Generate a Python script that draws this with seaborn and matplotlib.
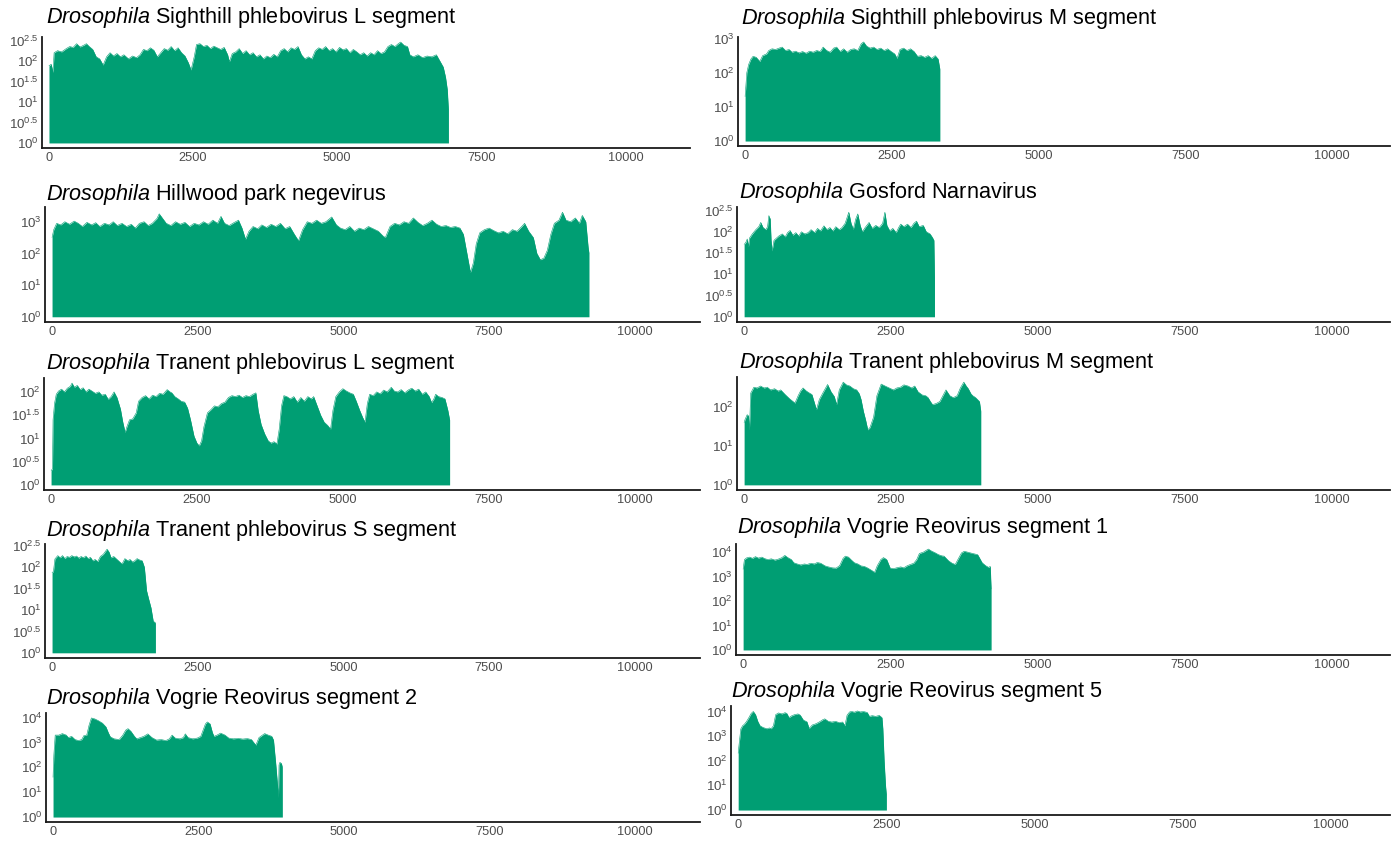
import numpy as np
import matplotlib
matplotlib.use("Agg")
import matplotlib.pyplot as plt
from matplotlib.ticker import NullLocator
import seaborn as sns

# Read depth along each genome: (position in nt, log10 depth)
sighthill_L = [
    (1, 1.88), (40, 1.92), (70, 1.72), (90, 2.2), (150, 2.25), (220, 2.22), (300, 2.3), (360, 2.35),
    (420, 2.33), (480, 2.42), (540, 2.34), (600, 2.38), (650, 2.42), (700, 2.35), (760, 2.28),
    (820, 2.1), (880, 2.05), (940, 1.9), (1000, 2.1), (1060, 2.2), (1120, 2.12), (1180, 2.18),
    (1240, 2.1), (1300, 2.15), (1380, 2.05), (1450, 2.12), (1520, 2.08), (1580, 2.15), (1640, 2.28),
    (1700, 2.25), (1760, 2.32), (1820, 2.26), (1880, 2.1), (1940, 2.2), (2000, 2.3), (2060, 2.26),
    (2120, 2.35), (2180, 2.25), (2240, 2.32), (2300, 2.2), (2360, 2.12), (2420, 1.95), (2465, 1.78),
    (2520, 2.1), (2560, 2.4), (2620, 2.42), (2680, 2.35), (2740, 2.38), (2800, 2.3), (2860, 2.36),
    (2920, 2.32), (2980, 2.28), (3040, 2.33), (3100, 2.15), (3130, 1.98), (3180, 2.18), (3240, 2.22),
    (3300, 2.3), (3360, 2.18), (3420, 2.25), (3480, 2.15), (3540, 2.2), (3600, 2.1), (3660, 2.15),
    (3720, 2.05), (3780, 2.12), (3840, 2.08), (3900, 2.16), (3960, 2.1), (4020, 2.25), (4080, 2.3),
    (4140, 2.22), (4200, 2.32), (4260, 2.28), (4320, 2.35), (4380, 2.15), (4440, 2.05), (4500, 2.1),
    (4560, 2.05), (4620, 2.25), (4680, 2.32), (4740, 2.28), (4800, 2.35), (4860, 2.25), (4920, 2.3),
    (4980, 2.22), (5040, 2.33), (5100, 2.27), (5160, 2.3), (5220, 2.2), (5280, 2.28), (5340, 2.22),
    (5400, 2.15), (5460, 2.2), (5520, 2.12), (5580, 2.2), (5640, 2.15), (5700, 2.25), (5760, 2.18),
    (5820, 2.22), (5880, 2.35), (5940, 2.4), (6000, 2.35), (6060, 2.42), (6100, 2.46), (6160, 2.38),
    (6220, 2.35), (6260, 2.15), (6320, 2.1), (6400, 2.15), (6480, 2.08), (6560, 2.12), (6640, 2.1),
    (6720, 2.15), (6780, 2.0), (6840, 1.85), (6880, 1.6), (6910, 1.3), (6930, 0.8),
]

hillwood = [
    (1, 2.5), (30, 2.75), (80, 2.95), (150, 2.9), (220, 3.0), (300, 2.92), (380, 3.02), (450, 2.95),
    (520, 2.85), (600, 2.98), (680, 2.9), (750, 2.97), (820, 2.85), (900, 2.95), (980, 2.9),
    (1050, 3.0), (1120, 2.88), (1200, 2.95), (1280, 2.85), (1360, 2.92), (1430, 2.8), (1500, 2.95),
    (1580, 3.0), (1650, 2.88), (1720, 2.95), (1800, 3.1), (1840, 3.25), (1900, 3.1), (1960, 2.95),
    (2040, 2.88), (2120, 3.0), (2200, 2.92), (2280, 2.98), (2360, 2.85), (2440, 2.95), (2520, 2.9),
    (2600, 3.0), (2680, 2.92), (2760, 3.05), (2840, 2.95), (2900, 3.17), (2960, 2.95), (3040, 2.88),
    (3120, 2.97), (3200, 3.05), (3260, 2.8), (3320, 2.45), (3380, 2.7), (3450, 2.85), (3530, 2.78),
    (3600, 2.9), (3680, 2.82), (3760, 2.92), (3840, 2.85), (3920, 2.95), (4000, 2.78), (4080, 2.85),
    (4160, 2.6), (4230, 2.4), (4300, 2.75), (4380, 3.0), (4460, 2.95), (4540, 3.05), (4620, 2.95),
    (4700, 3.0), (4800, 3.15), (4880, 2.9), (4950, 2.8), (5030, 2.75), (5110, 2.85), (5190, 2.7),
    (5270, 2.8), (5350, 2.75), (5430, 2.85), (5510, 2.78), (5600, 2.7), (5680, 2.55), (5720, 2.5),
    (5800, 2.85), (5880, 2.95), (5960, 2.9), (6040, 3.0), (6120, 2.95), (6200, 3.12), (6280, 2.98),
    (6360, 2.88), (6440, 2.95), (6520, 3.05), (6600, 2.92), (6680, 2.85), (6760, 2.88), (6840, 2.82),
    (6920, 2.85), (7000, 2.8), (7060, 2.6), (7120, 2.0), (7180, 1.4), (7230, 1.7), (7280, 2.3),
    (7340, 2.65), (7420, 2.75), (7500, 2.8), (7580, 2.72), (7660, 2.65), (7740, 2.7), (7820, 2.62),
    (7900, 2.75), (7980, 2.7), (8060, 2.85), (8110, 2.95), (8180, 2.7), (8260, 2.5), (8320, 2.0),
    (8380, 1.8), (8440, 1.85), (8500, 2.1), (8560, 2.6), (8620, 2.95), (8700, 3.05), (8760, 3.3),
    (8820, 3.05), (8900, 3.0), (8980, 3.12), (9050, 2.95), (9100, 3.2), (9160, 3.0), (9200, 2.2),
    (9215, 2.0),
]

tranent_L = [
    (1, 0.3), (25, 0.35), (35, 1.4), (60, 1.75), (90, 1.95), (130, 2.02), (180, 2.06), (230, 2.0),
    (280, 2.08), (330, 2.12), (360, 2.19), (400, 2.1), (450, 2.14), (500, 2.05), (550, 2.09),
    (600, 2.0), (650, 2.06), (700, 2.02), (760, 1.97), (820, 2.0), (870, 1.93), (930, 1.95),
    (980, 1.84), (1030, 1.9), (1080, 2.0), (1130, 1.88), (1190, 1.63), (1230, 1.35), (1270, 1.13),
    (1300, 1.25), (1345, 1.4), (1400, 1.42), (1460, 1.55), (1500, 1.8), (1560, 1.88), (1620, 1.92),
    (1680, 1.85), (1740, 1.93), (1800, 1.9), (1860, 1.97), (1920, 1.95), (1990, 2.05), (2040, 2.0),
    (2070, 1.98), (2120, 1.9), (2180, 1.85), (2230, 1.8), (2290, 1.78), (2340, 1.65), (2390, 1.4),
    (2450, 1.05), (2500, 0.9), (2540, 0.84), (2580, 0.95), (2620, 1.25), (2680, 1.55), (2740, 1.62),
    (2800, 1.7), (2860, 1.68), (2920, 1.75), (2980, 1.78), (3040, 1.88), (3100, 1.92), (3160, 1.9),
    (3220, 1.93), (3280, 1.88), (3340, 1.92), (3400, 1.9), (3460, 1.95), (3510, 1.98), (3550, 1.6),
    (3600, 1.3), (3660, 1.1), (3720, 0.95), (3770, 0.9), (3820, 0.93), (3870, 0.88), (3910, 1.2),
    (3950, 1.7), (3990, 1.92), (4040, 1.9), (4100, 1.85), (4160, 1.9), (4220, 1.78), (4280, 1.88),
    (4340, 1.8), (4400, 1.9), (4460, 1.85), (4500, 1.9), (4560, 1.7), (4620, 1.5), (4680, 1.35),
    (4740, 1.28), (4790, 1.2), (4830, 1.6), (4880, 1.9), (4940, 2.0), (5000, 2.07), (5060, 2.02),
    (5120, 1.98), (5180, 1.95), (5230, 1.8), (5290, 1.6), (5340, 1.45), (5380, 1.35), (5420, 1.75),
    (5460, 1.95), (5520, 1.92), (5580, 2.0), (5640, 1.96), (5700, 2.04), (5760, 2.0), (5830, 2.1),
    (5880, 2.02), (5940, 2.0), (6000, 2.05), (6060, 1.98), (6120, 2.04), (6180, 2.08), (6240, 2.02),
    (6300, 2.06), (6360, 1.95), (6420, 2.0), (6480, 1.9), (6520, 1.77), (6560, 1.85), (6590, 1.95),
    (6640, 1.9), (6700, 1.88), (6750, 1.85), (6800, 1.6), (6830, 1.4),
]

tranent_S = [
    (1, 1.87), (25, 1.9), (50, 2.19), (99, 2.27), (140, 2.22), (180, 2.27), (220, 2.2), (260, 2.25),
    (300, 2.23), (340, 2.27), (380, 2.24), (420, 2.26), (460, 2.21), (500, 2.25), (540, 2.22),
    (580, 2.26), (620, 2.2), (660, 2.23), (700, 2.15), (740, 2.18), (785, 2.13), (830, 2.25),
    (880, 2.3), (945, 2.42), (980, 2.35), (1013, 2.22), (1060, 2.25), (1100, 2.2), (1140, 2.15),
    (1180, 2.1), (1204, 2.08), (1250, 2.2), (1300, 2.15), (1340, 2.18), (1380, 2.12), (1420, 2.15),
    (1460, 2.2), (1500, 2.17), (1547, 2.15), (1585, 2.0), (1623, 1.45), (1660, 1.25), (1699, 1.05),
    (1737, 0.74), (1775, 0.7),
]

vogrie_2 = [
    (1, 1.6), (15, 2.5), (38, 3.3), (100, 3.3), (160, 3.36), (227, 3.3), (265, 3.2), (320, 3.25),
    (379, 3.12), (440, 3.08), (493, 3.12), (531, 3.28), (580, 3.3), (620, 3.7), (660, 3.99),
    (720, 3.95), (780, 3.88), (850, 3.78), (910, 3.63), (950, 3.4), (985, 3.23), (1050, 3.15),
    (1137, 3.12), (1200, 3.3), (1250, 3.5), (1289, 3.56), (1340, 3.45), (1400, 3.25), (1440, 3.15),
    (1500, 3.2), (1560, 3.25), (1630, 3.35), (1700, 3.2), (1780, 3.1), (1860, 3.12), (1940, 3.08),
    (2000, 3.15), (2047, 3.3), (2100, 3.18), (2180, 3.15), (2240, 3.2), (2274, 3.35), (2320, 3.2),
    (2400, 3.15), (2480, 3.18), (2540, 3.25), (2580, 3.5), (2620, 3.75), (2653, 3.83), (2700, 3.75),
    (2740, 3.4), (2767, 3.25), (2820, 3.3), (2880, 3.38), (2956, 3.3), (3020, 3.18), (3100, 3.15),
    (3180, 3.17), (3260, 3.14), (3340, 3.16), (3411, 3.12), (3450, 3.0), (3487, 2.9), (3540, 3.2),
    (3600, 3.3), (3638, 3.36), (3700, 3.3), (3760, 3.25), (3790, 3.1), (3828, 2.16), (3866, 1.1),
    (3875, 0.8), (3885, 2.1), (3900, 2.2), (3926, 2.16), (3942, 2.0),
]

sighthill_M = [
    (1, 1.3), (30, 2.0), (61, 2.24), (100, 2.4), (137, 2.48), (190, 2.45), (251, 2.33), (300, 2.5),
    (366, 2.55), (404, 2.65), (460, 2.7), (520, 2.68), (580, 2.72), (632, 2.75), (690, 2.65),
    (750, 2.68), (800, 2.6), (860, 2.63), (920, 2.58), (980, 2.62), (1040, 2.57), (1100, 2.63),
    (1160, 2.6), (1220, 2.65), (1280, 2.62), (1330, 2.75), (1390, 2.65), (1450, 2.6), (1510, 2.72),
    (1560, 2.75), (1620, 2.62), (1680, 2.7), (1740, 2.6), (1800, 2.68), (1860, 2.7), (1920, 2.65),
    (1980, 2.85), (2020, 2.9), (2070, 2.78), (2130, 2.72), (2190, 2.75), (2250, 2.68), (2310, 2.72),
    (2370, 2.65), (2430, 2.7), (2490, 2.62), (2550, 2.55), (2590, 2.42), (2640, 2.68), (2700, 2.72),
    (2760, 2.65), (2820, 2.7), (2880, 2.62), (2940, 2.48), (3000, 2.5), (3060, 2.45), (3120, 2.5),
    (3180, 2.42), (3240, 2.5), (3290, 2.4), (3320, 2.1),
]

gosford = [
    (1, 1.7), (30, 1.75), (54, 1.83), (75, 1.65), (92, 1.85), (140, 1.95), (200, 2.05), (250, 2.12),
    (284, 2.22), (323, 2.1), (370, 2.05), (400, 2.12), (422, 2.38), (445, 2.3), (460, 1.8),
    (476, 1.55), (510, 1.8), (550, 1.85), (591, 1.9), (650, 1.95), (700, 1.88), (740, 1.98),
    (783, 2.03), (830, 1.92), (880, 1.98), (930, 1.9), (975, 2.0), (1030, 1.95), (1091, 1.98),
    (1140, 2.05), (1200, 1.98), (1250, 2.08), (1300, 2.02), (1359, 2.14), (1410, 2.05), (1460, 2.1),
    (1510, 2.02), (1560, 2.12), (1620, 2.05), (1667, 2.1), (1720, 2.2), (1782, 2.46), (1820, 2.2),
    (1859, 2.06), (1900, 2.3), (1935, 2.42), (1975, 2.15), (2012, 2.0), (2060, 2.1), (2127, 2.22),
    (2180, 2.08), (2240, 2.15), (2300, 2.1), (2358, 2.2), (2396, 2.46), (2430, 2.15), (2480, 2.02),
    (2530, 2.08), (2588, 1.98), (2630, 2.1), (2665, 2.18), (2720, 2.12), (2780, 2.18), (2840, 2.1),
    (2890, 2.2), (2934, 2.25), (2980, 2.12), (3049, 2.15), (3100, 2.0), (3164, 1.95), (3203, 1.87),
    (3230, 1.8), (3240, 0.9),
]

tranent_M = [
    (1, 1.6), (15, 1.68), (53, 1.81), (75, 1.78), (91, 1.42), (114, 2.37), (167, 2.52), (220, 2.5),
    (280, 2.55), (340, 2.5), (395, 2.52), (450, 2.45), (520, 2.48), (580, 2.42), (623, 2.45),
    (699, 2.33), (775, 2.22), (866, 2.11), (920, 2.3), (960, 2.42), (1003, 2.5), (1060, 2.42),
    (1100, 2.38), (1155, 2.33), (1200, 2.1), (1231, 1.94), (1280, 2.2), (1340, 2.37), (1421, 2.59),
    (1480, 2.4), (1535, 2.28), (1573, 2.07), (1620, 2.45), (1687, 2.65), (1740, 2.58), (1800, 2.55),
    (1860, 2.48), (1915, 2.45), (1960, 2.35), (1991, 2.2), (2030, 1.9), (2067, 1.68), (2105, 1.42),
    (2143, 1.48), (2204, 1.75), (2260, 2.3), (2333, 2.6), (2400, 2.55), (2470, 2.5), (2540, 2.45),
    (2599, 2.5), (2660, 2.52), (2720, 2.58), (2790, 2.55), (2850, 2.5), (2903, 2.55), (2960, 2.4),
    (3030, 2.32), (3090, 2.3), (3131, 2.25), (3170, 2.15), (3207, 2.07), (3270, 2.1), (3330, 2.15),
    (3400, 2.35), (3435, 2.45), (3500, 2.3), (3560, 2.25), (3625, 2.3), (3680, 2.5), (3739, 2.65),
    (3780, 2.55), (3815, 2.48), (3860, 2.35), (3891, 2.3), (3940, 2.25), (4005, 2.15), (4028, 1.9),
]

vogrie_1 = [
    (1, 3.3), (23, 3.7), (61, 3.77), (110, 3.8), (160, 3.75), (210, 3.82), (260, 3.76), (320, 3.8),
    (366, 3.74), (420, 3.7), (480, 3.73), (540, 3.68), (600, 3.72), (660, 3.78), (709, 3.87),
    (760, 3.78), (820, 3.7), (861, 3.57), (920, 3.52), (980, 3.48), (1040, 3.52), (1090, 3.5),
    (1150, 3.55), (1210, 3.52), (1260, 3.58), (1318, 3.55), (1394, 3.44), (1450, 3.4), (1520, 3.36),
    (1580, 3.35), (1640, 3.45), (1699, 3.75), (1737, 3.84), (1790, 3.8), (1840, 3.68), (1890, 3.57),
    (1950, 3.52), (2004, 3.44), (2060, 3.42), (2120, 3.35), (2195, 3.24), (2233, 3.17), (2280, 3.45),
    (2340, 3.7), (2385, 3.78), (2440, 3.7), (2499, 3.35), (2560, 3.33), (2620, 3.37), (2680, 3.4),
    (2728, 3.36), (2790, 3.45), (2842, 3.5), (2900, 3.55), (2950, 3.7), (2995, 3.95), (3060, 4.0),
    (3147, 4.13), (3200, 4.05), (3261, 3.98), (3320, 3.9), (3380, 3.85), (3414, 3.84), (3490, 3.65),
    (3550, 3.55), (3604, 3.5), (3660, 3.75), (3710, 3.97), (3757, 4.04), (3820, 4.0), (3900, 3.95),
    (3985, 3.9), (4020, 3.75), (4061, 3.57), (4120, 3.45), (4170, 3.38), (4199, 3.42), (4214, 2.5),
]

vogrie_5 = [
    (1, 2.3), (15, 2.64), (45, 3.29), (75, 3.42), (105, 3.48), (143, 3.6), (181, 3.75), (220, 3.92),
    (256, 4.0), (294, 3.87), (331, 3.6), (369, 3.42), (420, 3.35), (480, 3.3), (530, 3.33),
    (557, 3.3), (595, 3.42), (633, 3.87), (680, 3.94), (740, 3.9), (790, 3.95), (821, 3.92),
    (858, 3.75), (900, 3.82), (950, 3.87), (1009, 3.9), (1047, 3.85), (1100, 3.65), (1160, 3.58),
    (1197, 3.31), (1250, 3.45), (1310, 3.5), (1350, 3.55), (1386, 3.6), (1430, 3.67), (1461, 3.7),
    (1520, 3.6), (1580, 3.57), (1640, 3.6), (1700, 3.55), (1762, 3.57), (1800, 3.42), (1837, 3.85),
    (1880, 3.98), (1913, 4.0), (1960, 3.97), (2010, 4.02), (2060, 3.98), (2110, 4.0), (2176, 3.96),
    (2214, 3.8), (2260, 3.83), (2320, 3.8), (2380, 3.84), (2425, 3.75), (2440, 3.3), (2462, 1.99),
    (2485, 1.0), (2500, 0.6),
]

virus_names = [
    "Sighthill phlebovirus L segment", "Hillwood park negevirus",
    "Tranent phlebovirus L segment", "Tranent phlebovirus S segment",
    "Vogrie Reovirus segment 2", "Sighthill phlebovirus M segment",
    "Gosford Narnavirus", "Tranent phlebovirus M segment",
    "Vogrie Reovirus segment 1", "Vogrie Reovirus segment 5",
]
coverage_tracks = [sighthill_L, hillwood, tranent_L, tranent_S, vogrie_2,
                   sighthill_M, gosford, tranent_M, vogrie_1, vogrie_5]
y_tick_exponents = [
    [0, 0.5, 1, 1.5, 2, 2.5], [0, 1, 2, 3], [0, 0.5, 1, 1.5, 2], [0, 0.5, 1, 1.5, 2, 2.5],
    [0, 1, 2, 3, 4], [0, 1, 2, 3], [0, 0.5, 1, 1.5, 2, 2.5], [0, 1, 2], [0, 1, 2, 3, 4],
    [0, 1, 2, 3, 4],
]
x_ticks = [0, 2500, 5000, 7500, 10000]

# ---- styling ----
GREEN = "#009E73"
AXIS_COLOR = "#1a1a1a"
TICK_TEXT = "#4D4D4D"

sns.set_theme(style="white")
plt.rcParams["font.family"] = ["Liberation Sans", "DejaVu Sans"]
plt.rcParams["mathtext.fontset"] = "custom"
plt.rcParams["mathtext.rm"] = "Liberation Sans"
plt.rcParams["mathtext.it"] = "Liberation Sans:italic"
plt.rcParams["mathtext.bf"] = "Liberation Sans:bold"

W, H = 1398, 844
fig = plt.figure(figsize=(W / 100, H / 100), dpi=100)
fig.patch.set_facecolor("white")

# axis-line frame of each panel in pixels (left, right, top, bottom) and title anchor (x, baseline)
frames = [
    (42, 690, 37, 148, 46, 23),
    (45, 700, 207, 322, 46, 200),
    (44, 700, 378, 490, 46, 369),
    (45, 700, 544, 658, 46, 536),
    (46, 700, 713, 822, 46, 704),
    (738, 1390, 37, 146, 741, 24),
    (737, 1390, 207, 322, 739, 198),
    (737, 1390, 377, 490, 739, 368),
    (736, 1390, 544, 655, 737, 533),
    (731, 1390, 706, 815, 731, 697),
]
x_limits = [(-120, 11120)] * 5 + [(-120, 10990)] * 5


def exponent_label(e):
    txt = f"{e:g}"
    return r"$\mathregular{10^{" + txt + r"}}$"


for track, name, exps, frame, xlim in zip(coverage_tracks, virus_names, y_tick_exponents,
                                          frames, x_limits):
    left, right, top, bottom, tx, ty = frame
    ax = fig.add_axes([left / W, 1 - bottom / H, (right - left) / W, (bottom - top) / H])
    pos = np.array([p for p, _ in track], dtype=float)
    depth = np.power(10.0, np.array([v for _, v in track]))

    ax.set_yscale("log")
    ax.fill_between(pos, 1.0, depth, color=GREEN, linewidth=0)
    sns.lineplot(x=pos, y=depth, ax=ax, color=GREEN, linewidth=0.4, estimator=None, sort=False)

    top_exp = np.log10(depth.max())
    ax.set_ylim(10 ** (-0.05 * top_exp), 10 ** (1.05 * top_exp))
    ax.set_xlim(*xlim)

    ax.set_yticks([10.0 ** e for e in exps])
    ax.set_yticklabels([exponent_label(e) for e in exps])
    ax.yaxis.set_minor_locator(NullLocator())
    ax.set_xticks(x_ticks)
    ax.set_xticklabels([str(t) for t in x_ticks])

    ax.tick_params(axis="both", length=0, labelcolor=TICK_TEXT)
    ax.tick_params(axis="y", pad=2.5, labelsize=9.6)
    ax.tick_params(axis="x", pad=3, labelsize=9.2)
    ax.set_xlabel("")
    ax.set_ylabel("")
    ax.grid(False)
    ax.set_facecolor("white")
    sns.despine(ax=ax)
    for side in ("left", "bottom"):
        ax.spines[side].set_color(AXIS_COLOR)
        ax.spines[side].set_linewidth(1.3)

    fig.text(tx / W, 1 - ty / H, r"$\mathit{Drosophila}$ " + name, fontsize=15.6,
             ha="left", va="baseline", color="black")

fig.savefig("out.png", dpi=100, facecolor="white")
